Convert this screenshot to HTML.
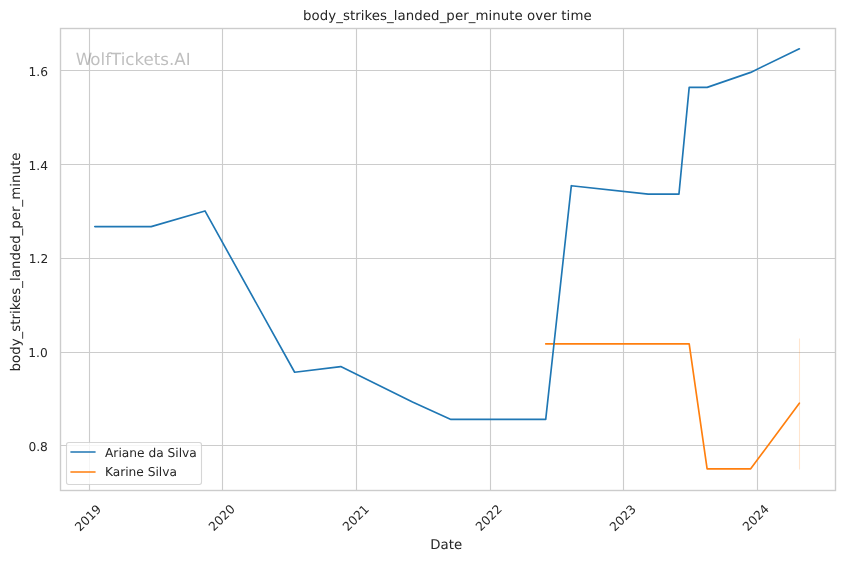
<!DOCTYPE html>
<html lang="en"><head><meta charset="utf-8"><title>body_strikes_landed_per_minute over time</title>
<style>html,body{margin:0;padding:0;background:#fff}body{width:844px;height:561px;overflow:hidden}svg text{white-space:pre;text-rendering:geometricPrecision}</style>
</head><body>
<svg width="844" height="561" viewBox="0 0 844 561" style="display:block">
<rect x="0" y="0" width="844" height="561" fill="#ffffff"/>
<path d="M89.5 28.5V490.5M222.5 28.5V490.5M356.5 28.5V490.5M490.5 28.5V490.5M623.5 28.5V490.5M757.5 28.5V490.5M60.5 70.5H835.5M60.5 164.5H835.5M60.5 258.5H835.5M60.5 352.5H835.5M60.5 445.5H835.5" fill="none" stroke="#cccccc" stroke-width="1.111"/>
<path d="M799.5 338.5V469.5" fill="none" stroke="#ff7f0e" stroke-opacity="0.2" stroke-width="1.111"/>
<polyline points="545.72,343.90 689.19,343.90 707.12,468.80 750.68,468.80 799.36,403.16" fill="none" stroke="#ff7f0e" stroke-width="1.667" stroke-linecap="round" stroke-linejoin="round"/>
<polyline points="94.81,226.59 151.17,226.59 204.98,210.93 294.65,372.22 340.76,366.59 412.50,402.04 450.93,419.39 545.72,419.39 571.34,185.71 648.20,194.06 678.94,194.06 689.19,87.34 707.12,87.34 750.68,72.39 799.36,48.80" fill="none" stroke="#1f77b4" stroke-width="1.667" stroke-linecap="round" stroke-linejoin="round"/>
<rect x="60.5" y="28.5" width="775" height="462" fill="none" stroke="#cccccc" stroke-width="1.389"/>
<rect x="66.5" y="442.5" width="135" height="42" rx="2.2" ry="2.2" fill="#ffffff" fill-opacity="0.8" stroke="#cccccc" stroke-opacity="0.8" stroke-width="1.111"/>
<path d="M71 452H95" fill="none" stroke="#1f77b4" stroke-width="1.667" stroke-linecap="round"/>
<path d="M71 472H95" fill="none" stroke="#ff7f0e" stroke-width="1.667" stroke-linecap="round"/>
<g font-family="'DejaVu Sans','Liberation Sans',sans-serif">
<text x="79.92" y="531.89" font-size="12.222" text-anchor="start" fill="#262626" transform="rotate(-45 79.92 531.89)">2019</text>
<text x="213.70" y="531.75" font-size="12.222" text-anchor="start" fill="#262626" transform="rotate(-45 213.70 531.75)">2020</text>
<text x="347.85" y="531.87" font-size="12.222" text-anchor="start" fill="#262626" transform="rotate(-45 347.85 531.87)">2021</text>
<text x="480.69" y="531.80" font-size="12.222" text-anchor="start" fill="#262626" transform="rotate(-45 480.69 531.80)">2022</text>
<text x="614.79" y="531.90" font-size="12.222" text-anchor="start" fill="#262626" transform="rotate(-45 614.79 531.90)">2023</text>
<text x="747.80" y="531.73" font-size="12.222" text-anchor="start" fill="#262626" transform="rotate(-45 747.80 531.73)">2024</text>
<text x="446.21" y="549.00" font-size="13.333" text-anchor="middle" fill="#262626">Date</text>
<text x="47.84" y="451.00" font-size="12.222" text-anchor="end" fill="#262626">0.8</text>
<text x="47.70" y="357.00" font-size="12.222" text-anchor="end" fill="#262626">1.0</text>
<text x="48.21" y="263.00" font-size="12.222" text-anchor="end" fill="#262626">1.2</text>
<text x="47.99" y="170.00" font-size="12.222" text-anchor="end" fill="#262626">1.4</text>
<text x="47.95" y="76.00" font-size="12.222" text-anchor="end" fill="#262626">1.6</text>
<text x="20.12" y="262.00" font-size="13.333" text-anchor="middle" fill="#262626" transform="rotate(-90 20.12 262.00)" letter-spacing="0.035">body_strikes_landed_per_minute</text>
<text x="74.84" y="65.00" font-size="16.667" text-anchor="start" fill="#808080" fill-opacity="0.5" dx="0.8 -0.8">WolfTickets.AI</text>
<text x="447.37" y="20.00" font-size="13.333" text-anchor="middle" fill="#262626" letter-spacing="0.06">body_strikes_landed_per_minute over time</text>
<text x="105.00" y="457.00" font-size="12.222" text-anchor="start" fill="#262626">Ariane da Silva</text>
<text x="104.88" y="476.00" font-size="12.222" text-anchor="start" fill="#262626">Karine Silva</text>
</g>
</svg>
</body></html>
